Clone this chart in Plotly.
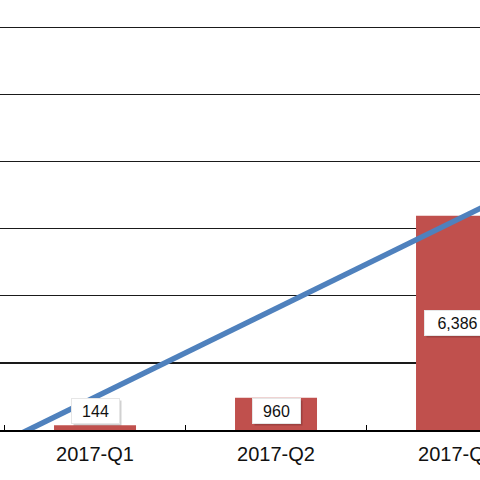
import plotly.graph_objects as go

categories = ["2016-Q4", "2017-Q1", "2017-Q2", "2017-Q3", "2017-Q4"]
bar_values = [None, 144, 960, 6386, None]
trend_values = [-1666, 978, 3622, 6266, 8910]
label_texts = ["", "144", "960", "6,386", ""]

BAR_COLOR = "#C0504D"
LINE_COLOR = "#4F81BD"
MIN_LABEL_Y = 570

fig = go.Figure()
fig.add_trace(go.Bar(x=categories, y=bar_values, marker=dict(color=BAR_COLOR, line=dict(width=0)),
                     showlegend=False, hoverinfo="skip"))
fig.add_trace(go.Scatter(x=categories, y=trend_values, mode="lines",
                         line=dict(color=LINE_COLOR, width=5.5), showlegend=False, hoverinfo="skip"))

for cat, v, t in zip(categories, bar_values, label_texts):
    if v is None:
        continue
    ly = max(v / 2, MIN_LABEL_Y)
    w = len(t) * 9 + 20
    # shadow
    fig.add_annotation(x=cat, y=ly, text=" ", showarrow=False, xshift=2.5, yshift=-2.5,
                       width=w, height=24, bgcolor="rgba(0,0,0,0.18)", borderpad=0,
                       font=dict(size=16))
    fig.add_annotation(x=cat, y=ly, text=t, showarrow=False,
                       width=w, height=24, bgcolor="white", bordercolor="#e6e6e6", borderwidth=1,
                       borderpad=0, font=dict(family="Arial, Liberation Sans", size=16, color="#111"))

fig.update_layout(
    width=480, height=480,
    margin=dict(l=0, r=0, t=0, b=50, pad=0, autoexpand=False),
    paper_bgcolor="white", plot_bgcolor="white",
    bargap=0.547,
    hovermode=False,
    xaxis=dict(type="category", range=[0.475, 3.127], tickson="boundaries", ticks="inside",
               ticklen=5, tickcolor="#000", tickwidth=1.2, showline=True, linecolor="#000",
               linewidth=1.5, showgrid=False, automargin=False, ticklabelstandoff=5,
               tickfont=dict(family="Arial, Liberation Sans", size=20, color="#111")),
    yaxis=dict(range=[0, 12817], dtick=2000, tick0=0, showticklabels=False, showgrid=True,
               gridcolor="#1a1a1a", gridwidth=1.2, zeroline=False, ticks="", automargin=False),
)

fig.write_html("out.html", config={"displayModeBar": False, "staticPlot": True},
               post_script="document.body.style.margin='0';document.body.style.overflow='hidden';")
